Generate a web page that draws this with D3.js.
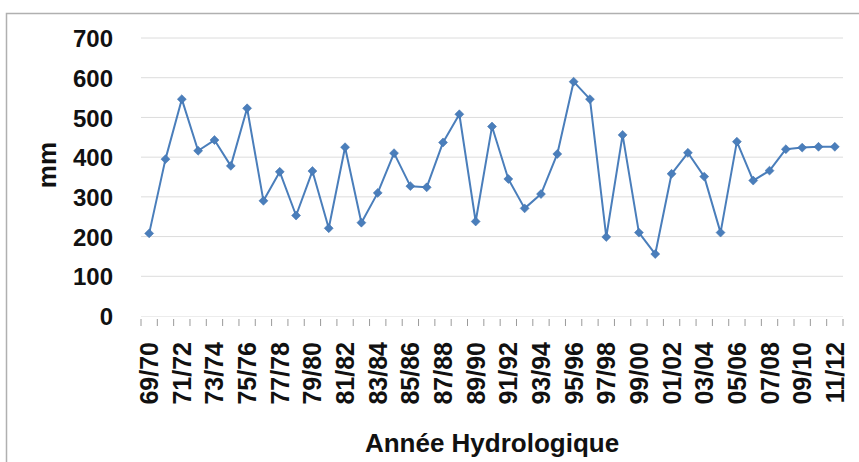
<!DOCTYPE html>
<html>
<head>
<meta charset="utf-8">
<script src="https://cdn.jsdelivr.net/npm/d3@7"></script>
<style>
  html, body { margin: 0; padding: 0; background: #fff; }
  svg { display: block; }
  text { font-family: "Liberation Sans", Arial, sans-serif; font-weight: bold; fill: #111; }
</style>
</head>
<body>
<svg id="chart" width="859" height="462"></svg>
<script>
const categories = ["69/70","70/71","71/72","72/73","73/74","74/75","75/76","76/77","77/78","78/79",
  "79/80","80/81","81/82","82/83","83/84","84/85","85/86","86/87","87/88","88/89",
  "89/90","90/91","91/92","92/93","93/94","94/95","95/96","96/97","97/98","98/99",
  "99/00","00/01","01/02","02/03","03/04","04/05","05/06","06/07","07/08","08/09",
  "09/10","10/11","11/12"];
const rainfall = [208,395,546,416,443,378,523,290,363,253,
  365,221,425,235,310,410,327,324,437,508,
  238,477,345,271,307,408,590,546,199,456,
  210,156,358,411,351,210,439,341,366,420,
  424,426,426];
const yTicks = [0,100,200,300,400,500,600,700];
const xTickLabels = categories.filter((d, i) => i % 2 === 0);
const yTitle = "mm";
const xTitle = "Année Hydrologique";

(function () {
const svg = d3.select("#chart");
const W = 859, H = 462;
const pLeft = 141, pRight = 843, pTop = 38, pBottom = 316;

// outer border
svg.append("rect").attr("x", 6.5).attr("y", 13.5).attr("width", W + 10).attr("height", H + 10)
  .attr("fill", "#fff").attr("stroke", "#b0b0b0").attr("stroke-width", 1.5);

const x = d3.scaleBand().domain(categories).range([pLeft, pRight]).paddingInner(0).paddingOuter(0);
const y = d3.scaleLinear().domain([0, 700]).range([pBottom, pTop]);

// gridlines
svg.append("g").selectAll("line").data(yTicks.filter(d => d > 0)).join("line")
  .attr("x1", pLeft).attr("x2", pRight)
  .attr("y1", d => y(d)).attr("y2", d => y(d))
  .attr("stroke", "#dcdcdc").attr("stroke-width", 1);

// y axis labels
const yAxis = d3.axisLeft(y).tickValues(yTicks).tickSize(0).tickPadding(0).tickFormat(d3.format("d"));
const gy = svg.append("g").attr("transform", `translate(${113},0)`).call(yAxis);
gy.select(".domain").remove();
gy.selectAll("text").attr("font-size", 24).attr("font-weight", "bold")
  .attr("font-family", "'Liberation Sans', Arial, sans-serif").attr("fill", "#111").attr("dy", "0.36em");

// x axis ticks (between categories)
const boundaries = categories.map(c => x(c)).concat([pRight]);
svg.append("g").selectAll("line").data(boundaries).join("line")
  .attr("x1", d => d).attr("x2", d => d).attr("y1", pBottom + 3).attr("y2", pBottom + 10)
  .attr("stroke", "#9a9a9a").attr("stroke-width", 1);
svg.append("line").attr("x1", pLeft).attr("x2", pRight).attr("y1", pBottom + 0.5).attr("y2", pBottom + 0.5)
  .attr("stroke", "#ececec");

// x labels
const cx = c => x(c) + x.bandwidth() / 2;
svg.append("g").selectAll("text").data(xTickLabels).join("text")
  .attr("transform", d => `translate(${cx(d) + 9},${342}) rotate(-90)`)
  .attr("text-anchor", "end")
  .attr("font-size", 25)
  .text(d => d);

// titles
svg.append("text").attr("x", (pLeft + pRight) / 2).attr("y", 452).attr("text-anchor", "middle")
  .attr("font-size", 26).text(xTitle);
svg.append("text").attr("transform", `translate(${56},${165}) rotate(-90)`).attr("text-anchor", "middle")
  .attr("font-size", 26).text(yTitle);

// line
const line = d3.line().x((d, i) => cx(categories[i])).y(d => y(d));
svg.append("path").datum(rainfall).attr("d", line)
  .attr("fill", "none").attr("stroke", "#4a7ebb").attr("stroke-width", 2).attr("stroke-linejoin", "round");

// markers
const sym = d3.symbol().type(d3.symbolSquare).size(40);
svg.append("g").selectAll("path").data(rainfall).join("path")
  .attr("d", sym)
  .attr("transform", (d, i) => `translate(${cx(categories[i])},${y(d)}) rotate(45)`)
  .attr("fill", "#4a7ebb").attr("stroke", "#3d6fab").attr("stroke-width", 0.5);
})();
</script>
</body>
</html>
